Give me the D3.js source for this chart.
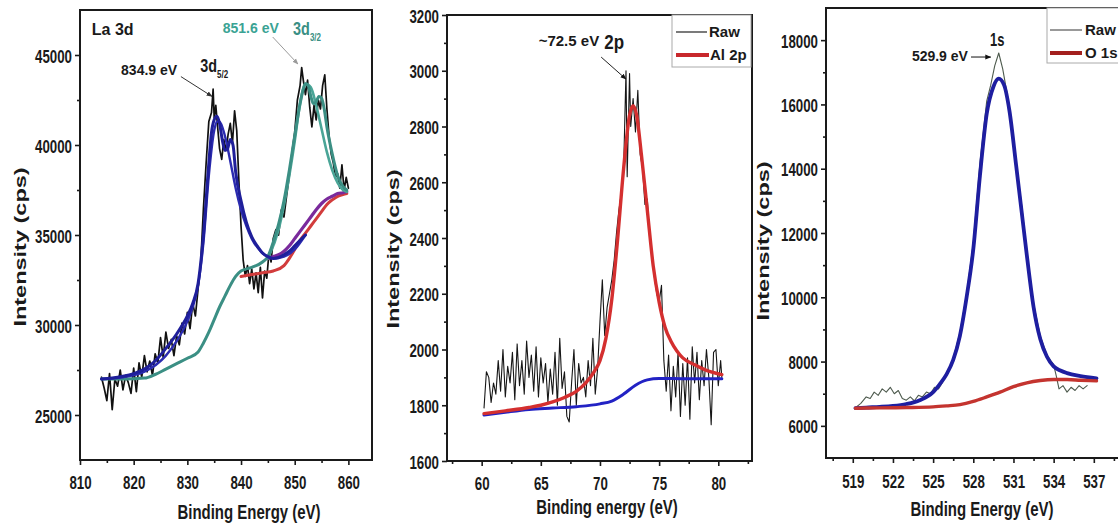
<!DOCTYPE html>
<html><head><meta charset="utf-8">
<script src="https://cdn.jsdelivr.net/npm/d3@7"></script>
<style>
body{margin:0;background:#fff;}
svg{display:block;font-family:"Liberation Sans",Arial,Helvetica,sans-serif;font-weight:bold;}
</style>
</head><body>
<svg id="c" width="1118" height="529"></svg>
<script>
// ================= DATA =================
// Panel 1 : La 3d
const laTicksX = [810, 820, 830, 840, 850, 860];
const laMinorX = [815, 825, 835, 845, 855];
const laTicksY = [25000, 30000, 35000, 40000, 45000];
const laMinorY = [27500, 32500, 37500, 42500];
const laRaw = [[814,27100],[814.5,26500],[815,25800],[815.5,27300],[816,25300],[816.5,27000],[817,26600],[817.5,27500],[818,26400],[818.5,27200],[819,26800],[819.5,26200],[820,27600],[820.5,26300],[821,27900],[821.5,27100],[822,28300],[822.5,27400],[823,28000],[823.5,27200],[824,28400],[824.5,27900],[825,29300],[825.5,28200],[826,29600],[826.5,28700],[827,29200],[827.5,28300],[828,29400],[828.5,28900],[829,30100],[829.5,29500],[830,30700],[830.5,29800],[831,31200],[831.5,30500],[832,32000],[832.5,33500],[833,36500],[833.5,39000],[834,41300],[834.5,41800],[834.8,43100],[835,41500],[835.3,42200],[835.7,40800],[836,39800],[836.4,39200],[836.8,40300],[837.2,39700],[837.6,40600],[838,41200],[838.4,40100],[838.8,41900],[839.2,40800],[839.6,38000],[840,35500],[840.4,33600],[840.8,32700],[841.2,33300],[841.6,32300],[842,33100],[842.4,32000],[842.8,32900],[843.2,31800],[843.6,33200],[844,31500],[844.4,33000],[844.8,32600],[845.2,34000],[845.6,33500],[846,34800],[846.5,35300],[847,35000],[847.5,36400],[848,36000],[848.5,37200],[849,38300],[849.5,39600],[850,40700],[850.5,42500],[851,43300],[851.3,44300],[851.6,43600],[852,42800],[852.4,43600],[852.8,42100],[853.2,41000],[853.6,42200],[854,41400],[854.4,42500],[854.8,42000],[855.2,43300],[855.6,43900],[856,42000],[856.4,40500],[856.8,39500],[857.2,39000],[857.6,38200],[858,38400],[858.4,37600],[858.8,38900],[859.2,37500],[859.6,38200],[860,37600]];
const laBlueFit = [[814,27000],[816,27050],[818,27150],[820,27300],[822,27550],[824,28000],[826,28700],[828,29500],[830,30500],[831,31200],[832,32300],[833,35000],[834,39000],[834.5,40700],[835,41400],[835.5,41600],[836,41200],[836.5,40300],[837,39700],[837.5,39800],[838,40300],[838.5,40000],[839,38500],[840,36900],[841,35700],[842,34900],[843,34400],[844,34000],[845,33800],[846,33700],[847,33750],[848,33900],[849,34100],[850,34400],[851,34700],[852,35000]];
const laBlueComp = [[814,27000],[818,27100],[822,27400],[826,28300],[828,29100],[830,30200],[831,31000],[832,32200],[833,34600],[834,38300],[835,40800],[835.5,41300],[836,41300],[837,40500],[838,39100],[839,37600],[840,36400],[841,35500],[842,34800],[844,34000],[846,33700],[848,33800],[850,34200],[852,35000]];
const laTealFit = [[814,27000],[818,27000],[822,27050],[824,27250],[826,27550],[828,27850],[830,28150],[832,28500],[833,29000],[834,29600],[835,30300],[836,31000],[837,31600],[838,32200],[839,32700],[840,33000],[842,33200],[844,33500],[845,33800],[846,34600],[847,35600],[848,36900],[849,38600],[850,40500],[851,42300],[851.6,43100],[852,43400],[852.5,43300],[853,42700],[853.5,42300],[854,42400],[854.5,42700],[855,42600],[855.5,42000],[856,41000],[857,39500],[858,38300],[859,37700],[859.7,37500]];
const laTealComp = [[845,33700],[847,35300],[849,38300],[850,40200],[851,42300],[852,43400],[853,43200],[854,42200],[855,40900],[856,39600],[857,38600],[858,37900],[859,37500],[859.7,37400]];
const laRedBg = [[840,32700],[842,32800],[844,32900],[846,33000],[848,33300],[849,33700],[850,34200],[851,34700],[852,35100],[853,35500],[854,35900],[855,36300],[856,36700],[857,36950],[858,37150],[859,37250],[859.7,37300]];
const laPurpleBg = [[845,33700],[846,33800],[847,33900],[848,34100],[849,34400],[850,34800],[851,35200],[852,35600],[853,36000],[854,36400],[855,36750],[856,37000],[857,37150],[858,37300],[859,37350],[859.7,37400]];

// Panel 2 : Al 2p
const alTicksX = [60, 65, 70, 75, 80];
const alMinorX = [57.5, 62.5, 67.5, 72.5, 77.5, 82.5];
const alTicksY = [1600, 1800, 2000, 2200, 2400, 2600, 2800, 3000, 3200];
const alMinorY = [1700, 1900, 2100, 2300, 2500, 2700, 2900, 3100];
const alRaw = [[60.2,1790],[60.4,1920],[60.6,1900],[60.8,1810],[61.0,1880],[61.2,1840],[61.4,1960],[61.6,1850],[61.8,2000],[62.0,1830],[62.2,1940],[62.4,1880],[62.6,1990],[62.8,1820],[63.0,2020],[63.2,1870],[63.4,1960],[63.6,1840],[63.8,2030],[64.0,1900],[64.2,1980],[64.4,1850],[64.6,2010],[64.8,1830],[65.0,1970],[65.2,1880],[65.4,1950],[65.6,1810],[65.8,1930],[66.0,1840],[66.2,1990],[66.4,1800],[66.6,2040],[66.8,1860],[67.0,1920],[67.2,1760],[67.4,1740],[67.6,1880],[67.8,2000],[68.0,1800],[68.2,1950],[68.4,1880],[68.6,1900],[68.8,1830],[69.0,1960],[69.2,1870],[69.4,2040],[69.6,1840],[69.8,1930],[70.0,2100],[70.2,2250],[70.4,2050],[70.6,2150],[70.8,2200],[71.0,2250],[71.2,2320],[71.4,2420],[71.6,2500],[71.8,2560],[72.0,2650],[72.2,3000],[72.3,2620],[72.5,2990],[72.6,2800],[72.8,2900],[73.0,2780],[73.2,2930],[73.4,2700],[73.6,2650],[73.8,2520],[74.0,2540],[74.2,2400],[74.4,2350],[74.6,2260],[74.8,2200],[75.0,2170],[75.2,2230],[75.4,1960],[75.6,1850],[75.8,1980],[76.0,1780],[76.2,1940],[76.4,1830],[76.6,1990],[76.8,1760],[77.0,1950],[77.2,1800],[77.4,1970],[77.6,1750],[77.8,2010],[78.0,1880],[78.2,1990],[78.4,1820],[78.6,1960],[78.8,1870],[79.0,2000],[79.2,1900],[79.4,1730],[79.6,1990],[79.8,2000],[80.0,1870],[80.2,1960],[80.3,1900]];
const alFit = [[60.2,1770],[62,1780],[64,1792],[65,1800],[66,1812],[67,1828],[68,1850],[68.8,1880],[69.5,1920],[70,1960],[70.5,2040],[71,2180],[71.5,2400],[72,2650],[72.5,2840],[72.8,2875],[73.1,2840],[73.5,2700],[74,2500],[74.5,2300],[75,2170],[75.5,2080],[76,2030],[76.5,1995],[77,1970],[78,1945],[79,1925],[80.3,1910]];
const alBg = [[60.2,1765],[62,1775],[64,1785],[66,1790],[68,1795],[70,1805],[71,1815],[72,1840],[73,1872],[74,1891],[75,1896],[76,1896],[78,1895],[80.3,1895]];

// Panel 3 : O 1s
const oTicksX = [519, 522, 525, 528, 531, 534, 537];
const oMinorX = [517.5, 520.5, 523.5, 526.5, 529.5, 532.5, 535.5, 538.5];
const oTicksY = [6000, 8000, 10000, 12000, 14000, 16000, 18000];
const oMinorY = [7000, 9000, 11000, 13000, 15000, 17000];
const oRaw = [[519.3,6600],[519.6,6700],[520,6900],[520.3,6850],[520.6,7050],[520.9,6950],[521.2,7150],[521.5,7050],[521.8,7200],[522.1,7000],[522.4,7100],[522.7,6850],[523,6800],[523.3,6900],[523.6,6780],[523.9,6950],[524.2,6900],[524.5,7050],[524.8,7000],[525.1,7200],[525.4,7150],[525.7,7350],[526,7600],[526.5,8100],[527,8900],[527.5,10100],[528,11700],[528.5,14200],[529,16100],[529.3,16600],[529.6,17200],[529.9,17600],[530.2,17100],[530.5,16400],[530.8,15600],[531.2,14200],[531.6,12900],[532,11400],[532.5,9800],[533,8800],[533.5,8200],[534,7900],[534.2,7550],[534.4,7150],[534.7,7250],[535,7050],[535.3,7200],[535.6,7100],[535.9,7250],[536.2,7150],[536.5,7250]];
const oFit = [[519.2,6550],[520,6570],[521,6590],[522,6620],[523,6680],[524,6800],[525,7050],[525.5,7300],[526,7600],[526.5,8050],[527,8800],[527.5,10000],[528,11500],[528.5,13800],[529,15700],[529.5,16550],[529.9,16800],[530.3,16600],[530.7,15800],[531.2,14100],[531.6,12700],[532,11300],[532.5,9700],[533,8700],[533.5,8150],[534,7850],[534.5,7720],[535,7640],[536,7550],[537.2,7480]];
const oBg = [[519.2,6550],[521,6560],[523,6570],[525,6590],[526,6620],[527,6660],[528,6760],[529,6900],[530,7050],[531,7220],[532,7340],[533,7410],[534,7440],[535,7440],[536,7420],[537.2,7400]];

// annotations (data coordinates)
const laNotes = {title:[812.2,46100], lab1:[828.1,43900], sub1:[832.4,44050], arr1:[[828.8,43800],[834.6,42700]],
                 lab2:[836.6,46220], sub2:[849.7,46110], arr2:[[845.9,46000],[850.6,44500]]};
const alNotes = {lab:[69.93,3089], sub:[70.36,3078], arr:[[70.1,3049],[72.2,2970]]};
const oNotes = {lab:[527.6,17350], sub:[529.25,17818], arr:[[527.83,17475],[529.3,17475]]};

// ================= DRAW =================
const svg = d3.select("#c");
const INK = "#1a1a1a";
const defs = svg.append("defs");
function marker(id, col){
  defs.append("marker").attr("id",id).attr("viewBox","0 0 10 10").attr("refX",9).attr("refY",5)
    .attr("markerWidth",6).attr("markerHeight",6).attr("orient","auto")
    .append("path").attr("d","M0,1 L10,5 L0,9 Z").attr("fill",col);
}
marker("mDark","#333"); marker("mLight","#9a9a9a"); marker("mBlack","#111");

function panel(cfg){
  const x = d3.scaleLinear().domain(cfg.xd).range([cfg.l, cfg.r]);
  const y = d3.scaleLinear().domain(cfg.yd).range([cfg.b, cfg.t]);
  const g = svg.append("g");
  cfg.series.forEach(s=>{
    g.append("path").datum(s.data)
      .attr("d", d3.line().x(d=>x(d[0])).y(d=>y(d[1])).curve(s.smooth? d3.curveMonotoneX : d3.curveLinear))
      .attr("fill","none").attr("stroke",s.color).attr("stroke-width",s.w)
      .attr("stroke-linejoin","round").attr("stroke-linecap","round");
  });
  g.append("rect").attr("x",cfg.l).attr("y",cfg.t).attr("width",cfg.r-cfg.l).attr("height",cfg.b-cfg.t)
    .attr("fill","none").attr("stroke",INK).attr("stroke-width",2);
  const styleAx = a => { a.attr("font-size",null).attr("font-family",null).attr("color",INK);
    a.select(".domain").remove(); a.selectAll("line").attr("stroke-width",1.6); };
  // bottom axis
  const bx = g.append("g").attr("transform",`translate(0,${cfg.b})`)
    .call(d3.axisBottom(x).tickValues(cfg.xt).tickSize(5).tickFormat(d3.format("d"))).call(styleAx);
  bx.selectAll("text").attr("y",cfg.xly).attr("dy",0).attr("transform","scale(0.76,1)")
    .style("font-size","17.5px").attr("fill",INK);
  g.append("g").attr("transform",`translate(0,${cfg.b})`)
    .call(d3.axisBottom(x).tickValues(cfg.xm).tickSize(3).tickFormat("")).call(styleAx);
  // left axis
  const ly = g.append("g").attr("transform",`translate(${cfg.l},0)`)
    .call(d3.axisLeft(y).tickValues(cfg.yt).tickSize(5).tickFormat(d3.format("d"))).call(styleAx);
  ly.selectAll("text").attr("x",-8/0.76).attr("dy",7.0).attr("transform","scale(0.76,1)")
    .style("font-size","17.5px").attr("fill",INK);
  g.append("g").attr("transform",`translate(${cfg.l},0)`)
    .call(d3.axisLeft(y).tickValues(cfg.ym).tickSize(3).tickFormat("")).call(styleAx);
  // titles
  g.append("text").attr("transform",`translate(${cfg.xtx},${cfg.xty}) scale(0.75,1)`)
    .attr("text-anchor","middle").style("font-size","20px").attr("fill",INK).text(cfg.xtitle);
  g.append("text").attr("transform",`translate(${cfg.ytx},${cfg.yty}) rotate(-90) scale(1,0.72)`)
    .attr("text-anchor","middle").style("font-size","23.5px").attr("fill",INK).text("Intensity (cps)");
  return {x, y, g};
}

// ---- Panel 1 ----
const p1 = panel({l:80, r:372, t:10, b:460, xd:[810,864.4], yd:[22500,47500],
  xt:laTicksX, xm:laMinorX, yt:laTicksY, ym:laMinorY, xly:29,
  xtitle:"Binding Energy (eV)", xtx:249, xty:519, ytx:26, yty:247,
  series:[
    {data:laRaw, color:"#111", w:1.7},
    {data:laRedBg, color:"#d23c3c", w:3, smooth:true},
    {data:laPurpleBg, color:"#7a2a9c", w:3.2, smooth:true},
    {data:laTealComp, color:"#4aa597", w:2.6, smooth:true},
    {data:laTealFit, color:"#3b8f84", w:3, smooth:true},
    {data:laBlueComp, color:"#2b2bb0", w:2.4, smooth:true},
    {data:laBlueFit, color:"#1f1f9a", w:3, smooth:true}
  ]});
{
  const {x,y,g} = p1;
  g.append("text").attr("x",x(laNotes.title[0])).attr("y",y(laNotes.title[1])).style("font-size","16px").attr("fill",INK).text("La 3d");
  g.append("text").attr("x",x(laNotes.lab1[0])).attr("y",y(laNotes.lab1[1])).attr("text-anchor","end").style("font-size","14px").attr("fill",INK).text("834.9 eV");
  const t1 = g.append("text").attr("transform",`translate(${x(laNotes.sub1[0])},${y(laNotes.sub1[1])}) scale(0.8,1)`).style("font-size","18px").attr("fill",INK);
  t1.append("tspan").text("3d"); t1.append("tspan").attr("dy",6).style("font-size","10px").text("5/2");
  g.append("line").attr("x1",x(laNotes.arr1[0][0])).attr("y1",y(laNotes.arr1[0][1])).attr("x2",x(laNotes.arr1[1][0])).attr("y2",y(laNotes.arr1[1][1]))
    .attr("stroke","#333").attr("stroke-width",1).attr("marker-end","url(#mDark)");
  g.append("text").attr("x",x(laNotes.lab2[0])).attr("y",y(laNotes.lab2[1])).style("font-size","14px").attr("fill","#3aa394").text("851.6 eV");
  const t2 = g.append("text").attr("transform",`translate(${x(laNotes.sub2[0])},${y(laNotes.sub2[1])}) scale(0.8,1)`).style("font-size","18px").attr("fill","#3a8f84");
  t2.append("tspan").text("3d"); t2.append("tspan").attr("dy",6).style("font-size","10px").text("3/2");
  g.append("line").attr("x1",x(laNotes.arr2[0][0])).attr("y1",y(laNotes.arr2[0][1])).attr("x2",x(laNotes.arr2[1][0])).attr("y2",y(laNotes.arr2[1][1]))
    .attr("stroke","#9a9a9a").attr("stroke-width",1).attr("marker-end","url(#mLight)");
}

// ---- Panel 2 ----
const p2 = panel({l:447, r:752, t:15, b:461, xd:[57.07,82.85], yd:[1600,3200],
  xt:alTicksX, xm:alMinorX, yt:alTicksY, ym:alMinorY, xly:29,
  xtitle:"Binding energy (eV)", xtx:607, xty:514, ytx:399, yty:249,
  series:[
    {data:alRaw, color:"#161616", w:1.1},
    {data:alBg, color:"#2222c4", w:3, smooth:true},
    {data:alFit, color:"#d42f2f", w:3.4, smooth:true}
  ]});
{
  const {x,y,g} = p2;
  g.append("text").attr("x",x(alNotes.lab[0])).attr("y",y(alNotes.lab[1])).attr("text-anchor","end").style("font-size","15px").attr("fill",INK).text("~72.5 eV");
  g.append("text").attr("transform",`translate(${x(alNotes.sub[0])},${y(alNotes.sub[1])}) scale(0.85,1)`).style("font-size","20px").attr("fill",INK).text("2p");
  g.append("line").attr("x1",x(alNotes.arr[0][0])).attr("y1",y(alNotes.arr[0][1])).attr("x2",x(alNotes.arr[1][0])).attr("y2",y(alNotes.arr[1][1]))
    .attr("stroke","#222").attr("stroke-width",1).attr("marker-end","url(#mBlack)");
  const lg = g.append("g");
  lg.append("rect").attr("x",672).attr("y",15).attr("width",79).attr("height",52).attr("fill","#fff").attr("stroke","#aaa").attr("stroke-width",1);
  lg.append("line").attr("x1",676).attr("x2",707).attr("y1",32).attr("y2",32).attr("stroke","#222").attr("stroke-width",1.2);
  lg.append("text").attr("x",709).attr("y",37).style("font-size","15px").attr("fill",INK).text("Raw");
  lg.append("line").attr("x1",676).attr("x2",709).attr("y1",55).attr("y2",55).attr("stroke","#c8282c").attr("stroke-width",4);
  lg.append("text").attr("x",710).attr("y",60).style("font-size","15px").attr("fill",INK).text("Al 2p");
}

// ---- Panel 3 ----
const p3 = panel({l:826, r:1121, t:8, b:458, xd:[517,539.03], yd:[5000,19000],
  xt:oTicksX, xm:oMinorX, yt:oTicksY, ym:oMinorY, xly:30,
  xtitle:"Binding Energy (eV)", xtx:982, xty:516, ytx:769, yty:241,
  series:[
    {data:oRaw, color:"#4d5a4d", w:1.1},
    {data:oFit, color:"#1e1ea0", w:3.8, smooth:true},
    {data:oBg, color:"#c4342f", w:3.4, smooth:true}
  ]});
{
  const {x,y,g} = p3;
  g.append("text").attr("x",x(oNotes.lab[0])).attr("y",y(oNotes.lab[1])).attr("text-anchor","end").style("font-size","14px").attr("fill",INK).text("529.9 eV");
  g.append("text").attr("transform",`translate(${x(oNotes.sub[0])},${y(oNotes.sub[1])}) scale(0.72,1)`).style("font-size","18px").attr("fill",INK).text("1s");
  g.append("line").attr("x1",x(oNotes.arr[0][0])).attr("y1",y(oNotes.arr[0][1])).attr("x2",x(oNotes.arr[1][0])).attr("y2",y(oNotes.arr[1][1]))
    .attr("stroke","#111").attr("stroke-width",1).attr("marker-end","url(#mBlack)");
  const lg = g.append("g");
  lg.append("rect").attr("x",1047).attr("y",8).attr("width",80).attr("height",55).attr("fill","#fff").attr("stroke","#aaa").attr("stroke-width",1);
  lg.append("line").attr("x1",1050).attr("x2",1082).attr("y1",30).attr("y2",30).attr("stroke","#555").attr("stroke-width",1.2);
  lg.append("text").attr("x",1085).attr("y",35).style("font-size","15px").attr("fill",INK).text("Raw");
  lg.append("line").attr("x1",1050).attr("x2",1082).attr("y1",53).attr("y2",53).attr("stroke","#a3201e").attr("stroke-width",4);
  lg.append("text").attr("x",1085).attr("y",58).style("font-size","15px").attr("fill",INK).text("O 1s");
}
</script>
</body></html>
